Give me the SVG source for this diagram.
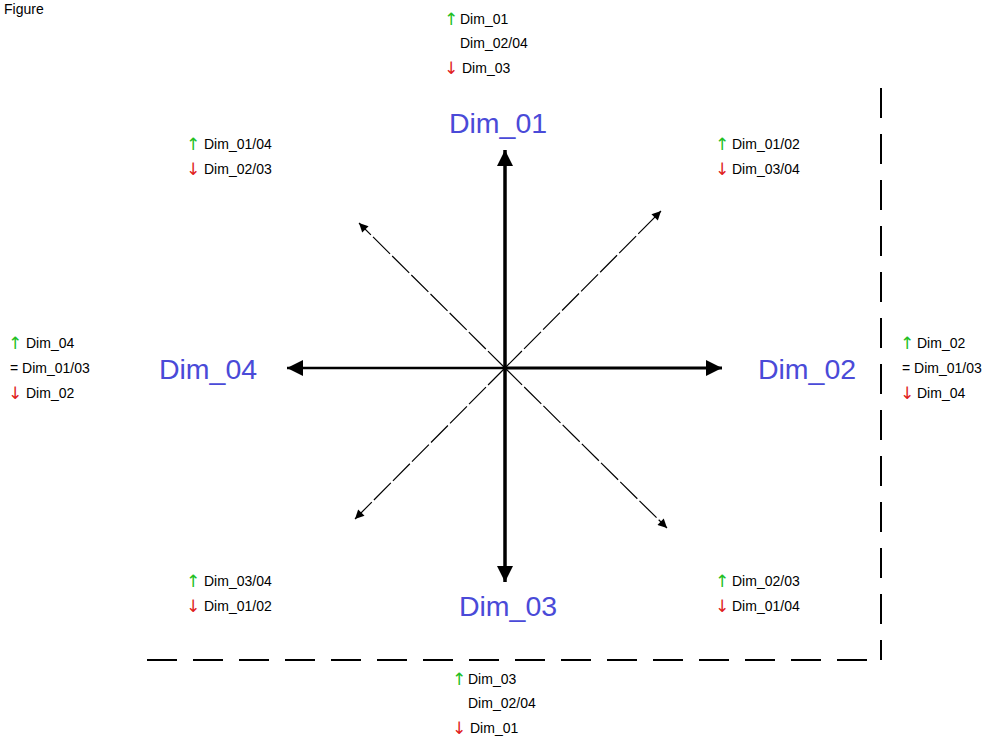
<svg xmlns="http://www.w3.org/2000/svg" width="998" height="739" viewBox="0 0 998 739">
<style>
.dim{font-family:"Liberation Sans",Arial,sans-serif;font-size:28.5px;fill:#4a4ad8}
.t{font-family:"Liberation Sans",Arial,sans-serif;font-size:14px;fill:#000}
.up{fill:#22c022;font-family:"DejaVu Sans",sans-serif;font-size:17px}
.dn{fill:#e02020;font-family:"DejaVu Sans",sans-serif;font-size:17px}
.ax{stroke:#000;fill:none}
.dg{stroke:#000;stroke-width:1.2;stroke-dasharray:24 3;fill:none}
.bd{stroke:#000;stroke-width:2;stroke-dasharray:30 16;fill:none}
</style>
<defs>
<marker id="ah" viewBox="0 0 10 10" refX="10" refY="5" markerWidth="18" markerHeight="16" orient="auto" markerUnits="userSpaceOnUse">
<path d="M0,0 L10,5 L0,10 Z" fill="#000"/>
</marker>
<marker id="sm" viewBox="0 0 10 10" refX="10" refY="5" markerWidth="11" markerHeight="9" orient="auto" markerUnits="userSpaceOnUse">
<path d="M0,0 L10,5 L0,10 Z" fill="#000"/>
</marker>
</defs>
<rect width="998" height="739" fill="#fff"/>
<text class="t" x="4" y="14" font-size="11">Figure</text>
<g id="connectors">
<line class="ax" x1="505" y1="368" x2="505" y2="150" stroke-width="3.5" marker-end="url(#ah)"/>
<line class="ax" x1="505" y1="368" x2="505" y2="582" stroke-width="3.5" marker-end="url(#ah)"/>
<line class="ax" x1="505" y1="368" x2="287" y2="368" stroke-width="2.5" marker-end="url(#ah)"/>
<line class="ax" x1="505" y1="368" x2="722" y2="368" stroke-width="3" marker-end="url(#ah)"/>
<line class="dg" x1="505" y1="368" x2="359" y2="223" marker-end="url(#sm)"/>
<line class="dg" x1="505" y1="368" x2="661" y2="211" marker-end="url(#sm)"/>
<line class="dg" x1="505" y1="368" x2="355" y2="519" marker-end="url(#sm)"/>
<line class="dg" x1="505" y1="368" x2="667" y2="528" marker-end="url(#sm)"/>
<circle cx="505" cy="368" r="2.5" fill="#000"/>
</g>
<g id="border">
<line class="bd" x1="881" y1="88" x2="881" y2="660"/>
<line class="bd" x1="147" y1="660" x2="883" y2="660"/>
</g>
<g id="dim01"><text class="dim" x="498" y="133" text-anchor="middle">Dim_01</text></g>
<g id="dim02"><text class="dim" x="807" y="379" text-anchor="middle">Dim_02</text></g>
<g id="dim03"><text class="dim" x="508" y="616" text-anchor="middle">Dim_03</text></g>
<g id="dim04"><text class="dim" x="208" y="379" text-anchor="middle">Dim_04</text></g>
<g id="lbl-top">
<text class="up" x="444" y="25">↑</text><text class="t" x="460" y="24">Dim_01</text>
<text class="t" x="460" y="48">Dim_02/04</text>
<text class="dn" x="444" y="74">↓</text><text class="t" x="462" y="73">Dim_03</text>
</g>
<g id="lbl-bottom">
<text class="up" x="452" y="685">↑</text><text class="t" x="468" y="684">Dim_03</text>
<text class="t" x="468" y="708">Dim_02/04</text>
<text class="dn" x="452" y="734">↓</text><text class="t" x="470" y="733">Dim_01</text>
</g>
<g id="lbl-left">
<text class="up" x="8" y="349">↑</text><text class="t" x="26" y="348">Dim_04</text>
<text class="t" x="10" y="373">= Dim_01/03</text>
<text class="dn" x="8" y="399">↓</text><text class="t" x="26" y="398">Dim_02</text>
</g>
<g id="lbl-right">
<text class="up" x="900" y="349">↑</text><text class="t" x="917" y="348">Dim_02</text>
<text class="t" x="902" y="373">= Dim_01/03</text>
<text class="dn" x="900" y="399">↓</text><text class="t" x="917" y="398">Dim_04</text>
</g>
<g id="lbl-tl">
<text class="up" x="186" y="150">↑</text><text class="t" x="204" y="149">Dim_01/04</text>
<text class="dn" x="186" y="175">↓</text><text class="t" x="204" y="174">Dim_02/03</text>
</g>
<g id="lbl-tr">
<text class="up" x="715" y="150">↑</text><text class="t" x="732" y="149">Dim_01/02</text>
<text class="dn" x="715" y="175">↓</text><text class="t" x="732" y="174">Dim_03/04</text>
</g>
<g id="lbl-bl">
<text class="up" x="186" y="587">↑</text><text class="t" x="204" y="586">Dim_03/04</text>
<text class="dn" x="186" y="612">↓</text><text class="t" x="204" y="611">Dim_01/02</text>
</g>
<g id="lbl-br">
<text class="up" x="715" y="587">↑</text><text class="t" x="732" y="586">Dim_02/03</text>
<text class="dn" x="715" y="612">↓</text><text class="t" x="732" y="611">Dim_01/04</text>
</g>
</svg>
